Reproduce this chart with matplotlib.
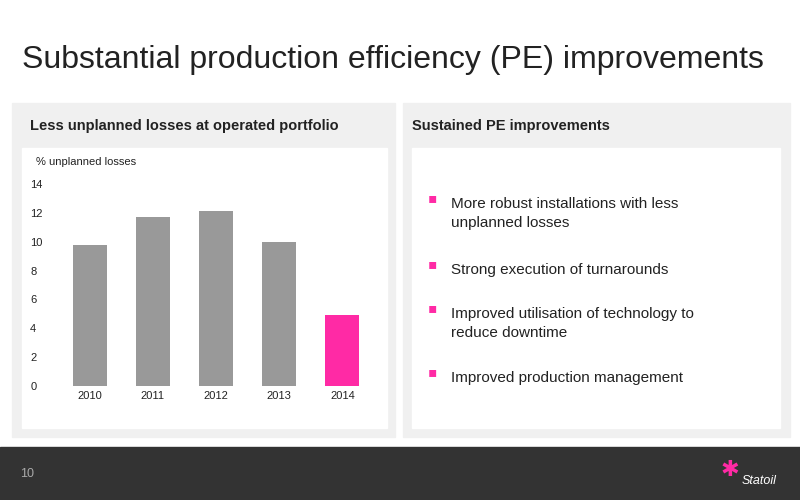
import matplotlib.pyplot as plt
from matplotlib.patches import Rectangle

years = ["2010", "2011", "2012", "2013", "2014"]
losses = [9.8, 11.7, 12.1, 10.0, 4.9]
bar_colors = ["#999999", "#999999", "#999999", "#999999", "#ff2aa5"]
bullets = [
    "More robust installations with less\nunplanned losses",
    "Strong execution of turnarounds",
    "Improved utilisation of technology to\nreduce downtime",
    "Improved production management",
]

W, H = 800, 500
plt.rcParams['font.family'] = ['Liberation Sans', 'DejaVu Sans']
fig = plt.figure(figsize=(8, 5), dpi=100)


def px_rect(x0, y0, x1, y1, color):
    # pixel coords, origin top-left
    fig.patches.append(Rectangle((x0 / W, 1 - y1 / H), (x1 - x0) / W, (y1 - y0) / H,
                                 transform=fig.transFigure, color=color, zorder=0))


def px_text(x, y, s, **kw):
    fig.text(x / W, 1 - y / H, s, **kw)


px_text(22, 60, "Substantial production efficiency (PE) improvements", fontsize=23,
        color="#222222", va="center")

# panels
px_rect(12, 103, 395, 437, "#f0f0f0")
px_rect(22, 148, 387, 428, "white")
px_rect(403, 103, 790, 437, "#f0f0f0")
px_rect(412, 148, 780, 428, "white")
px_text(30, 126, "Less unplanned losses at operated portfolio", fontsize=10.5,
        fontweight="bold", color="#222222", va="center")
px_text(412, 126, "Sustained PE improvements", fontsize=10.5,
        fontweight="bold", color="#222222", va="center")

# footer
px_rect(0, 447, 800, 500, "#333333")
px_text(20, 474, "10", fontsize=9, color="#aaaaaa", va="center")
px_text(742, 481, "Statoil", fontsize=9, color="white", va="center", style="italic")
fig.text(730 / W, 1 - 470 / H, "\u2731", fontsize=16, color="#ff2aa5",
         ha="center", va="center", family=["DejaVu Sans"])

# bar chart: y=0 at px 386, 14 at px 184
ax = fig.add_axes([58 / W, 1 - 386 / H, (374 - 58) / W, (386 - 184) / H])
ax.set_zorder(5)
ax.bar(years, losses, color=bar_colors, width=0.54)
ax.set_ylim(0, 14)
ax.set_yticks(range(0, 15, 2))
ax.set_xlim(-0.5, 4.5)
for s in ax.spines.values():
    s.set_visible(False)
ax.tick_params(length=0, labelsize=8, colors="#222222")
ax.tick_params(axis="y", pad=20)
for t in ax.get_yticklabels():
    t.set_horizontalalignment("left")
ax.patch.set_alpha(0)
px_text(36, 162, "% unplanned losses", fontsize=8, color="#222222", va="center")

# bullets
tops = [201, 267, 311, 375]
for y, b in zip(tops, bullets):
    px_text(428, y - 3, "\u25aa", fontsize=10, color="#ff2aa5", va="center",
            family=["DejaVu Sans"])
    px_text(451, y - 4, b, fontsize=11, color="#222222", va="top", linespacing=1.45)

fig.savefig("out.png", dpi=100)
